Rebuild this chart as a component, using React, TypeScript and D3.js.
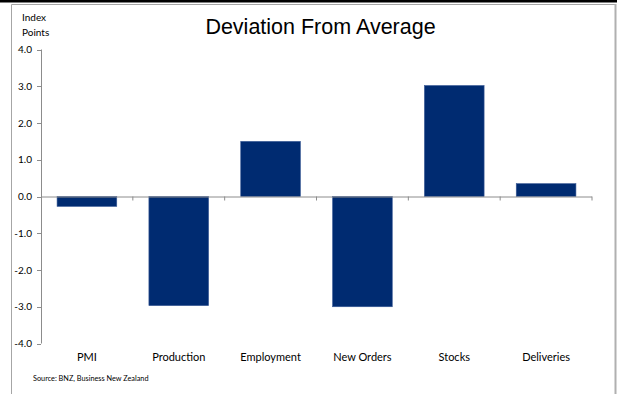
import React from "react";
import * as d3 from "d3";

const categories = ["PMI", "Production", "Employment", "New Orders", "Stocks", "Deliveries"];
const values = [-0.27, -2.97, 1.5, -3.0, 3.02, 0.35];
const yTicks = [4, 3, 2, 1, 0, -1, -2, -3, -4];

const W = 620;
const H = 394;
const left = 41;
const right = 592;
const top = 49.5;
const bottom = 343.5;

export default function App() {
  const x = d3.scaleBand<string>().domain(categories).range([left, right]).paddingInner(0.35).paddingOuter(0.175);
  const xb = d3.scaleBand<string>().domain(categories).range([left, right]);
  const y = d3.scaleLinear().domain([-4, 4]).range([bottom, top]);
  const axisColor = "#8c8c8c";
  const labelFont = "Lato, 'Open Sans', sans-serif";
  return (
    <svg width={W} height={H} style={{ position: "absolute", left: 0, top: 0 }}>
      <rect x={0} y={0} width={W} height={H} fill="#fff" />
      <rect x={0} y={0} width={617} height={2.5} fill="#000" />
      <line x1={11.5} y1={4.5} x2={615} y2={4.5} stroke="#a6a6a6" strokeWidth={1} />
      <line x1={11.5} y1={4.5} x2={11.5} y2={H} stroke="#a6a6a6" strokeWidth={1} />
      <line x1={615.5} y1={4} x2={615.5} y2={H} stroke="#b0b0b0" strokeWidth={2} />
      <text x={320.5} y={34} textAnchor="middle" fontFamily="'Liberation Sans', Arial, sans-serif" fontSize={21.5} fill="#000">
        Deviation From Average
      </text>
      <text x={22} y={21} fontFamily={labelFont} fontSize={10} fill="#000">Index</text>
      <text x={22} y={36} fontFamily={labelFont} fontSize={10} fill="#000">Points</text>
      {values.map((v, i) => (
        <rect
          key={categories[i]}
          x={x(categories[i])!}
          width={x.bandwidth()}
          y={Math.min(y(v), y(0))}
          height={Math.abs(y(v) - y(0))}
          fill="#002b71"
          stroke="#3a5a96"
          strokeWidth={0.6}
        />
      ))}
      <line x1={left + 0.5} y1={top} x2={left + 0.5} y2={bottom} stroke={axisColor} />
      {yTicks.map((t) => (
        <g key={t}>
          <line x1={left - 4} x2={left} y1={Math.round(y(t)) + 0.5} y2={Math.round(y(t)) + 0.5} stroke={axisColor} />
          <text x={32} y={y(t)} dy="0.35em" textAnchor="end" fontFamily={labelFont} fontSize={10} fill="#000">
            {t.toFixed(1)}
          </text>
        </g>
      ))}
      <line x1={left} y1={y(0) + 0.5} x2={right} y2={y(0) + 0.5} stroke={axisColor} />
      {categories.map((c) => (
        <line key={c} x1={xb(c)! + xb.bandwidth()} x2={xb(c)! + xb.bandwidth()} y1={y(0)} y2={y(0) + 4} stroke={axisColor} />
      ))}
      {categories.map((c) => (
        <text key={c} x={xb(c)! + xb.bandwidth() / 2} y={361} textAnchor="middle" fontFamily={labelFont} fontSize={11} fill="#000">
          {c}
        </text>
      ))}
      <text x={33} y={381} fontFamily={labelFont} fontSize={7.3} fill="#000">Source: BNZ, Business New Zealand</text>
    </svg>
  );
}
